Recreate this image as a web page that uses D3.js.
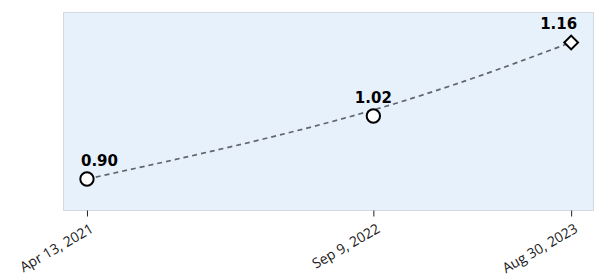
<!DOCTYPE html>
<html>
<head>
<meta charset="utf-8">
<script src="https://cdn.jsdelivr.net/npm/d3@7"></script>
<style>
  html, body { margin: 0; padding: 0; background: #fff; }
  svg { display: block; }
</style>
</head>
<body>
<svg id="chart" width="595" height="280"></svg>
<script>
const dates = ["2021-04-13", "2022-09-09", "2023-08-30"];
const values = [0.90, 1.02, 1.16];
const tickLabels = ["Apr 13, 2021", "Sep 9, 2022", "Aug 30, 2023"];
const markerShapes = ["circle", "circle", "diamond"];
const xDomain = ["2021-03-01", "2023-10-10"];
const yDomain = [0.841, 1.218];

const parse = d3.timeParse("%Y-%m-%d");
const W = 595, H = 280;
const margin = { top: 12, right: 1, bottom: 70, left: 63 };

const svg = d3.select("#chart");
const x = d3.scaleTime().domain(xDomain.map(parse)).range([margin.left, W - margin.right]);
const y = d3.scaleLinear().domain(yDomain).range([H - margin.bottom, margin.top]);

const data = dates.map((d, i) => ({ date: parse(d), value: values[i], label: tickLabels[i], shape: markerShapes[i] }));

// plot background
svg.append("rect")
  .attr("x", margin.left + 0.5)
  .attr("y", margin.top + 0.5)
  .attr("width", W - margin.right - margin.left - 1)
  .attr("height", H - margin.bottom - margin.top)
  .attr("fill", "#e7f1fb")
  .attr("stroke", "#d3dadf")
  .attr("stroke-width", 1);

// x axis
const axis = d3.axisBottom(x)
  .tickValues(data.map(d => d.date))
  .tickFormat((d, i) => tickLabels[i])
  .tickSizeOuter(0)
  .tickSize(6);

const gx = svg.append("g")
  .attr("transform", `translate(0,${H - margin.bottom + 0.5})`)
  .call(axis);
gx.select(".domain").remove();
gx.selectAll(".tick line").attr("stroke", "#222").attr("stroke-width", 1);
gx.selectAll(".tick text")
  .attr("x", 0).attr("y", 0).attr("dy", 0)
  .attr("transform", "translate(7,21) rotate(-30)")
  .attr("text-anchor", "end")
  .attr("fill", "#1a1a1a")
  .style("font-family", "'Open Sans', 'Noto Sans', sans-serif")
  .style("font-size", "14px");

// line
const line = d3.line()
  .x(d => x(d.date))
  .y(d => y(d.value))
  .curve(d3.curveBasis);

svg.append("path")
  .datum(data)
  .attr("d", line)
  .attr("fill", "none")
  .attr("stroke", "#62656b")
  .attr("stroke-width", 1.7)
  .attr("stroke-dasharray", "5,4");

// markers
const sym = { circle: d3.symbolCircle, diamond: d3.symbolSquare };
svg.selectAll("path.marker")
  .data(data)
  .enter().append("path")
  .attr("class", "marker")
  .attr("d", d => d3.symbol().type(sym[d.shape]).size(d.shape === "circle" ? 140 : 95)())
  .attr("transform", d => `translate(${x(d.date)},${y(d.value)})` + (d.shape === "diamond" ? " rotate(45)" : ""))
  .attr("fill", "#fff")
  .attr("stroke", "#000")
  .attr("stroke-width", 2);

// value labels
const n = data.length;
svg.selectAll("text.val")
  .data(data)
  .enter().append("text")
  .attr("class", "val")
  .attr("x", (d, i) => x(d.date) + (i === 0 ? -6 : i === n - 1 ? 6 : 0))
  .attr("y", d => y(d.value) - 13)
  .attr("text-anchor", (d, i) => i === 0 ? "start" : i === n - 1 ? "end" : "middle")
  .style("font-family", "'DejaVu Sans', sans-serif")
  .style("font-weight", "bold")
  .style("font-size", "15px")
  .attr("fill", "#000")
  .text(d => d.value.toFixed(2));
</script>
</body>
</html>
